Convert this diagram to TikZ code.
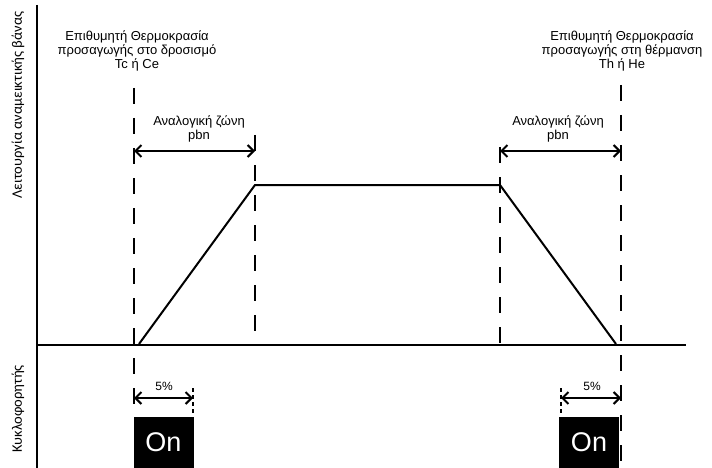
\documentclass[tikz,border=0pt]{standalone}
\usepackage{fontspec}
\setmainfont{Liberation Sans}
\newfontfamily\calfont{Carlito}
\usetikzlibrary{arrows.meta}
\begin{document}
\begin{tikzpicture}[x=1pt,y=-1pt,
  axis/.style={line width=2pt},
  guide/.style={line width=2.6pt, dash pattern=on 16pt off 14pt},
  tickline/.style={line width=1.6pt, dash pattern=on 4pt off 3pt},
  curve/.style={line width=2pt, line join=miter},
  dim/.style={line width=2pt, {Straight Barb[length=6pt,width=12pt]}-{Straight Barb[length=6pt,width=12pt]}},
  lbl/.style={font=\fontsize{13}{14}\selectfont, align=center, inner sep=0pt, anchor=north},
  small/.style={font=\fontsize{12}{12}\selectfont, inner sep=0pt, anchor=base},
  onbox/.style={fill=black, text=white, font=\fontsize{27}{27}\selectfont, minimum width=60pt, minimum height=51pt, inner sep=0pt},
  side/.style={font=\calfont\fontsize{14.5}{15}\selectfont, rotate=90, inner sep=0pt}
]
\useasboundingbox (0,0) rectangle (712,468);
% key points
\coordinate (ytop) at (37,5);   \coordinate (ybot) at (37,468);
\coordinate (xl) at (36,345);   \coordinate (xr) at (686,345);
\coordinate (c1t) at (134,88);  \coordinate (c1b) at (134,417);
\coordinate (c2t) at (255,135); \coordinate (c2b) at (255,345);
\coordinate (h2t) at (500,147); \coordinate (h2b) at (500,345);
\coordinate (h1t) at (621,85);  \coordinate (h1b) at (621,468);
\coordinate (s0) at (139,344);  \coordinate (p1) at (255,185);
\coordinate (p2) at (500,185);  \coordinate (s3) at (616,344);
\coordinate (a1l) at (134,151); \coordinate (a1r) at (255,151);
\coordinate (a2l) at (500,151); \coordinate (a2r) at (621,151);
\coordinate (b1l) at (134,398); \coordinate (b1r) at (193,398);
\coordinate (b2l) at (561,398); \coordinate (b2r) at (621,398);
\coordinate (t1t) at (193,388); \coordinate (t1b) at (193,414);
\coordinate (t2t) at (561,388); \coordinate (t2b) at (561,414);
% guides
\draw[guide] (c1t) -- (c1b);
\draw[guide] (c2t) -- (c2b);
\draw[guide] (h2t) -- (h2b);
\draw[guide] (h1t) -- (h1b);
\draw[tickline] (t1t) -- (t1b);
\draw[tickline] (t2t) -- (t2b);
% axes
\draw[axis] (ytop) -- (ybot);
\draw[axis] (xl) -- (xr);
% curve
\draw[curve] (s0) -- (p1) -- (p2) -- (s3);
% dimension arrows
\draw[dim] (a1l) -- (a1r);
\draw[dim] (a2l) -- (a2r);
\draw[dim] (b1l) -- (b1r);
\draw[dim] (b2l) -- (b2r);
% boxes
\node[onbox] (on1) at (163.5,442.5) {On};
\node[onbox] (on2) at (589,442.5) {On};
% labels
\node[lbl] (tc) at (137,30.5) {Επιθυμητή Θερμοκρασία\\προσαγωγής στο δροσισμό\\Tc ή Ce};
\node[lbl] (th) at (622,30.5) {Επιθυμητή Θερμοκρασία\\προσαγωγής στη θέρμανση\\Th ή He};
\node[lbl] (pb1) at (199,115.5) {Αναλογική ζώνη\\pbn};
\node[lbl] (pb2) at (558,115.5) {Αναλογική ζώνη\\pbn};
\node[small] (pc1) at (164,390) {5\%};
\node[small] (pc2) at (592,390) {5\%};
\node[side] (yl1) at (18,105) {Λειτουργία αναμεικτικής βάνας};
\node[side] (yl2) at (18,409) {Κυκλοφορητής};
\end{tikzpicture}
\end{document}
